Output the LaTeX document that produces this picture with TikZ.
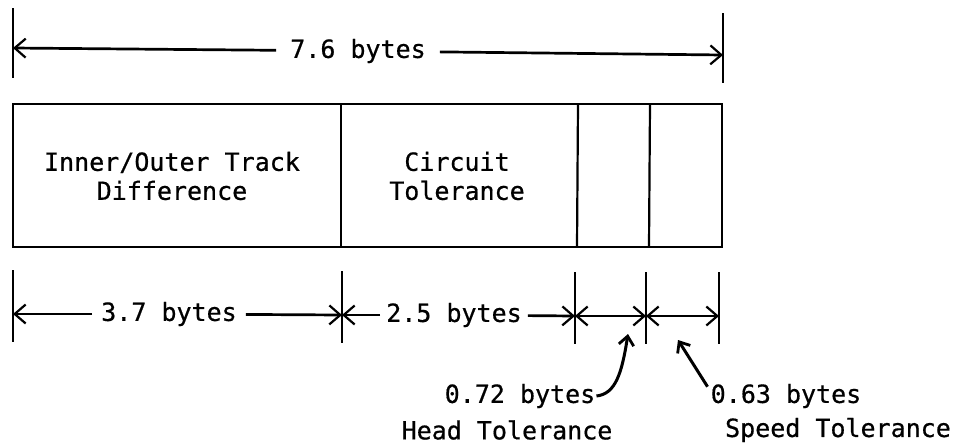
\documentclass[tikz,border=0pt]{standalone}
\usepackage{fontspec}
\setmonofont{DejaVu Sans Mono}[FakeBold=0.6]
\usetikzlibrary{arrows.meta,positioning}
\tikzset{
    type-text/.style = {font=\ttfamily\fontsize{25}{29}\selectfont},
    barb/.tip = {Straight Barb[length=11pt, width=19pt, line width=2.2pt]},
    dim-tick/.style = {line width=2.8pt},
    dim-line/.style = {line width=2.7pt, -barb},
    dim-both/.style = {line width=2.7pt, barb-barb},
    dim-label/.style = {type-text, inner xsep=11pt, inner ysep=2pt},
    field-box/.style = {draw, line width=2.2pt},
    field-label/.style = {type-text, align=center},
    note-arrow/.style = {line width=3pt, -{Straight Barb[length=9pt, width=15pt, line width=2.8pt]}},
}

\begin{document}
\begin{tikzpicture}[x=1pt, y=-1pt]
\useasboundingbox (0,0) rectangle (972,447);
% total width
\coordinate (top-l) at (13,48);
\coordinate (top-r) at (723,55);
\draw[dim-tick] (13,8) -- (13,78);
\draw[dim-tick] (723,13) -- (723,83);
\node[dim-label, inner xsep=14pt] (top-lbl) at (358,51) {7.6 bytes};
\draw[dim-line] (top-lbl) -- (top-l);
\draw[dim-line] (top-lbl) -- (top-r);

% the field
\draw[field-box] (13,104) rectangle (722,247);
\draw[field-box] (341,104) -- (341,247);
\draw[field-box] (578,104) -- (577,247);
\draw[field-box] (650,104) -- (649,247);
\node[field-label] (track) at (172,176) {Inner/Outer Track\\Difference};
\node[field-label] (circuit) at (457,176) {Circuit\\Tolerance};

% parts
\coordinate (bot-a) at (13,314);
\coordinate (bot-b) at (342,315);
\coordinate (bot-c) at (575,316);
\coordinate (bot-d) at (646,316);
\coordinate (bot-e) at (719,316);
\foreach \t in {a,b,c,d,e}
    \draw[dim-tick] (bot-\t) ++(0,-44) -- ++(0,72);
\node[dim-label, inner xsep=9pt] (inner-lbl) at (169,314) {3.7 bytes};
\node[dim-label, inner xsep=6pt] (circuit-lbl) at (454,315) {2.5 bytes};
\draw[dim-line] (inner-lbl) -- (bot-a);
\draw[dim-line] (inner-lbl) -- (bot-b);
\draw[dim-line] (circuit-lbl) -- (bot-b);
\draw[dim-line] (circuit-lbl) -- (bot-c);
\draw[dim-both] (bot-c) -- (bot-d);
\draw[dim-both] (bot-d) -- (bot-e);

% notes
\node[type-text, inner sep=1pt] (head-val) at (520,396) {0.72 bytes};
\node[type-text, inner sep=1pt] (head-name) at (507,430) {Head Tolerance};
\node[type-text, inner sep=1pt] (speed-val) at (786,396) {0.63 bytes};
\node[type-text, inner sep=1pt] (speed-name) at (838,430) {Speed Tolerance};
\coordinate (head-tip) at (628,334);
\coordinate (speed-tip) at (678,340);
\draw[note-arrow] (head-val.east) .. controls (616,394) and (622,372) .. (head-tip);
\draw[note-arrow] ([xshift=-2pt, yshift=-4pt]speed-val.north west) -- (speed-tip);
\end{tikzpicture}
\end{document}
